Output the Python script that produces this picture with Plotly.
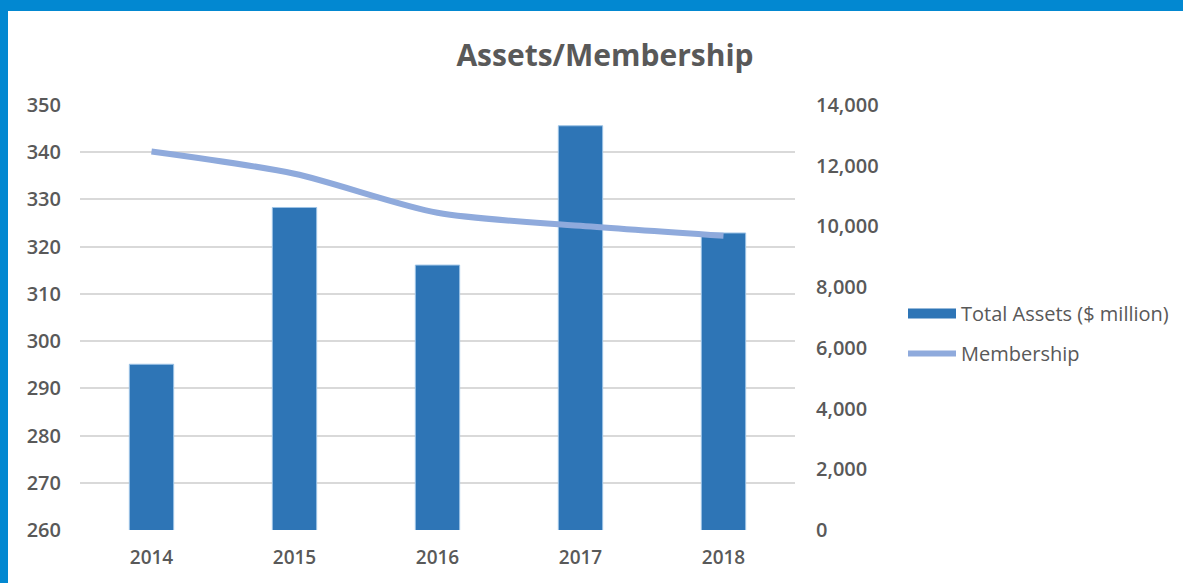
import plotly.graph_objects as go

years = ["2014", "2015", "2016", "2017", "2018"]
total_assets = [295.1, 328.3, 316.1, 345.6, 322.9]
membership = [12470, 11735, 10450, 10020, 9690]

left_ticks = [260, 270, 280, 290, 300, 310, 320, 330, 340, 350]
right_ticks = [0, 2000, 4000, 6000, 8000, 10000, 12000, 14000]
right_tick_text = ["0", "2,000", "4,000", "6,000", "8,000", "10,000", "12,000", "14,000"]

W, H = 1183, 583
ML, MR, MT, MB = 80, 388, 105, 53
PW, PH = W - ML - MR, H - MT - MB

TEXT = "#595959"
FONT = "Open Sans"
BAR = "#2E75B6"
LINE = "#8FAADC"

fig = go.Figure()
fig.add_trace(go.Bar(
    x=years, y=total_assets, name="Total Assets ($ million)",
    marker=dict(color=BAR, line=dict(color="#9DC3E6", width=1)),
    showlegend=False, yaxis="y",
))
# legend entry for the bars, drawn as a wide swatch
fig.add_trace(go.Scatter(
    x=[None], y=[None], name="Total Assets ($ million)", mode="lines",
    line=dict(color=BAR, width=13), legendgroup="a", hoverinfo="skip",
))
fig.add_trace(go.Scatter(
    x=years, y=membership, name="Membership", mode="lines",
    line=dict(color=LINE, width=6, shape="spline", smoothing=0.8),
    legendgroup="b", yaxis="y2",
))

def px_x(p):
    return (p - ML) / PW

def px_y(p):
    return (H - MB - p) / PH

shapes = [
    dict(type="rect", xref="paper", yref="paper", x0=px_x(0), x1=px_x(W), y0=px_y(11), y1=px_y(0),
         fillcolor="#0288D1", line=dict(width=0), layer="above"),
    dict(type="rect", xref="paper", yref="paper", x0=px_x(0), x1=px_x(8), y0=px_y(H), y1=px_y(0),
         fillcolor="#0288D1", line=dict(width=0), layer="above"),
]

fig.update_layout(
    width=W, height=H,
    margin=dict(l=ML, r=MR, t=MT, b=MB, autoexpand=False),
    paper_bgcolor="white", plot_bgcolor="white",
    title=dict(text="<b>Assets/Membership</b>", xref="container", x=605 / W, xanchor="center",
               yref="container", y=1 - 55 / H, yanchor="middle",
               font=dict(family=FONT, size=30, color=TEXT)),
    bargap=0.69,
    showlegend=True,
    legend=dict(x=px_x(903), xanchor="left", y=px_y(294), yanchor="top",
                font=dict(family=FONT, size=20, color=TEXT),
                traceorder="grouped", tracegroupgap=11, itemwidth=48,
                bgcolor="rgba(0,0,0,0)"),
    xaxis=dict(type="category", tickfont=dict(family=FONT, size=19, color=TEXT, weight=600),
               showgrid=False, showline=False, ticks="", ticklabelstandoff=14),
    yaxis=dict(range=[260, 350], tickvals=left_ticks, showgrid=True, gridcolor="#D9D9D9",
               gridwidth=1.5, zeroline=False, showline=False,
               tickfont=dict(family=FONT, size=20, color=TEXT, weight=600),
               ticklabelstandoff=18),
    yaxis2=dict(range=[0, 14000], tickvals=right_ticks, ticktext=right_tick_text,
                overlaying="y", side="right", showgrid=False, zeroline=False, showline=False,
                tickfont=dict(family=FONT, size=20, color=TEXT, weight=600),
                ticklabelstandoff=20),
    shapes=shapes,
    font=dict(family=FONT, color=TEXT),
)

fig.write_html("out.html", config={"displayModeBar": False},
               post_script="document.body.style.margin='0';")
